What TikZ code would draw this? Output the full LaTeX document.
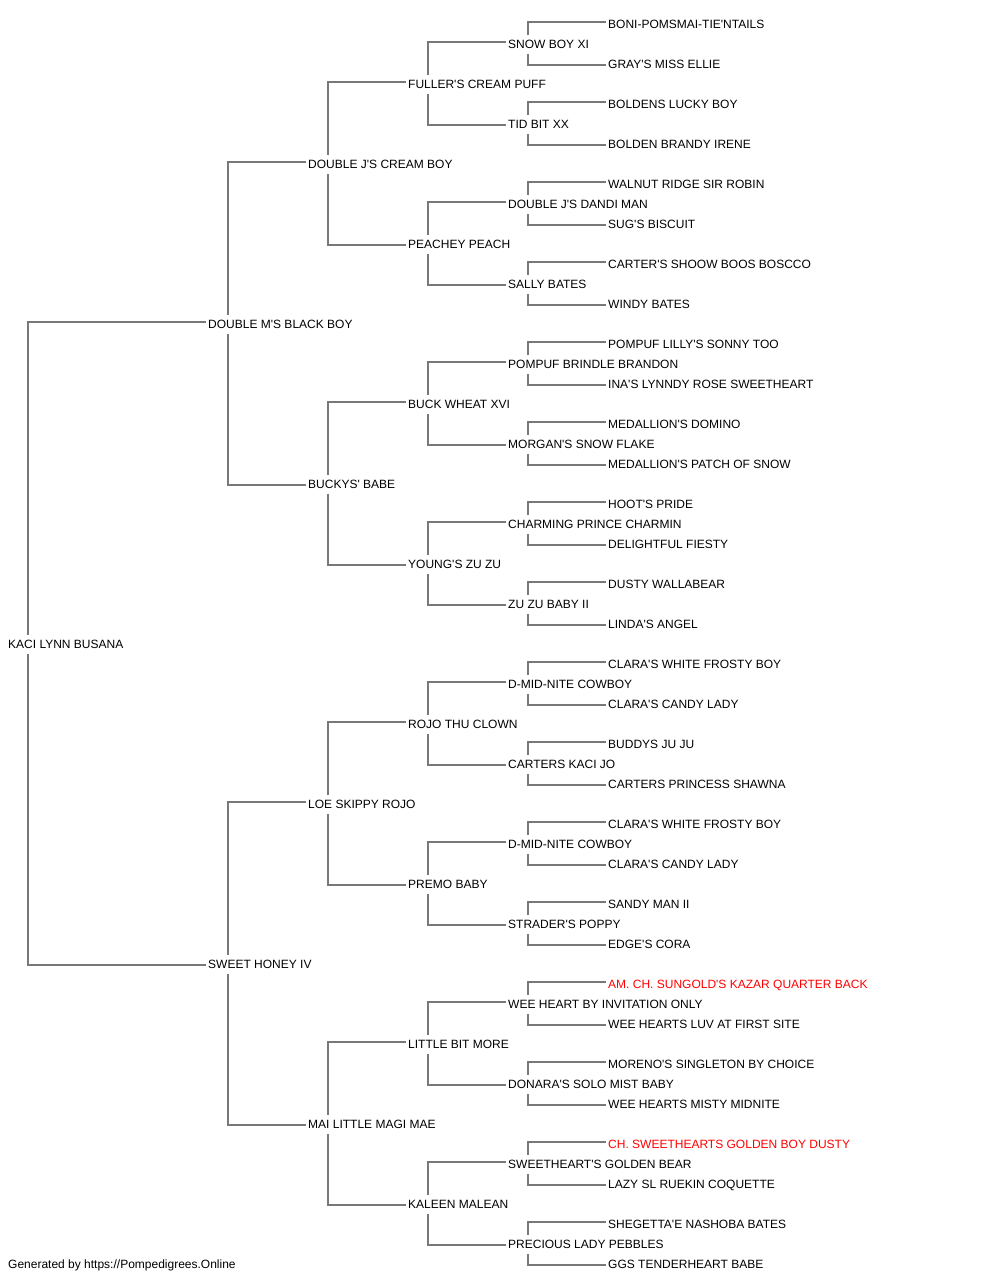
\documentclass[tikz,border=0pt]{standalone}
\usepackage{fontspec}
\setmainfont{Liberation Sans}[Ligatures=TeXOff]
\pgfdeclarelayer{bg}
\pgfsetlayers{bg,main}
\definecolor{linegray}{RGB}{120,120,120}
\definecolor{redname}{RGB}{255,0,0}
\tikzset{
  pname/.style={anchor=west,fill=white,inner xsep=2pt,inner ysep=0pt,
    text height=8.6pt,text depth=0pt,minimum height=19pt,font=\fontsize{12pt}{14pt}\selectfont,text=black},
  champ/.style={pname,text=redname},
  link/.style={draw=linegray,line width=1.1pt}
}
\newcommand{\famlink}[3]{%
  \draw[link] ([yshift=2pt]#2.west) -| ([xshift=22pt]#1.west) |- ([yshift=-1pt]#3.west);}
\begin{document}
\begin{tikzpicture}[x=1pt,y=-1pt]
\useasboundingbox (0,0) rectangle (1000,1280);
% root
\node[pname] (r) at (6,644) {KACI LYNN BUSANA};
% gen 1
\node[pname] (a1) at (206,324) {DOUBLE M'S BLACK BOY};
\node[pname] (a2) at (206,964) {SWEET HONEY IV};
% gen 2
\node[pname] (b1) at (306,164) {DOUBLE J'S CREAM BOY};
\node[pname] (b2) at (306,484) {BUCKYS' BABE};
\node[pname] (b3) at (306,804) {LOE SKIPPY ROJO};
\node[pname] (b4) at (306,1124) {MAI LITTLE MAGI MAE};
% gen 3
\node[pname] (c1) at (406,84) {FULLER'S CREAM PUFF};
\node[pname] (c2) at (406,244) {PEACHEY PEACH};
\node[pname] (c3) at (406,404) {BUCK WHEAT XVI};
\node[pname] (c4) at (406,564) {YOUNG'S ZU ZU};
\node[pname] (c5) at (406,724) {ROJO THU CLOWN};
\node[pname] (c6) at (406,884) {PREMO BABY};
\node[pname] (c7) at (406,1044) {LITTLE BIT MORE};
\node[pname] (c8) at (406,1204) {KALEEN MALEAN};
% gen 4
\node[pname] (d1) at (506,44) {SNOW BOY XI};
\node[pname] (d2) at (506,124) {TID BIT XX};
\node[pname] (d3) at (506,204) {DOUBLE J'S DANDI MAN};
\node[pname] (d4) at (506,284) {SALLY BATES};
\node[pname] (d5) at (506,364) {POMPUF BRINDLE BRANDON};
\node[pname] (d6) at (506,444) {MORGAN'S SNOW FLAKE};
\node[pname] (d7) at (506,524) {CHARMING PRINCE CHARMIN};
\node[pname] (d8) at (506,604) {ZU ZU BABY II};
\node[pname] (d9) at (506,684) {D-MID-NITE COWBOY};
\node[pname] (d10) at (506,764) {CARTERS KACI JO};
\node[pname] (d11) at (506,844) {D-MID-NITE COWBOY};
\node[pname] (d12) at (506,924) {STRADER'S POPPY};
\node[pname] (d13) at (506,1004) {WEE HEART BY INVITATION ONLY};
\node[pname] (d14) at (506,1084) {DONARA'S SOLO MIST BABY};
\node[pname] (d15) at (506,1164) {SWEETHEART'S GOLDEN BEAR};
\node[pname] (d16) at (506,1244) {PRECIOUS LADY PEBBLES};
% gen 5
\node[pname] (e1) at (606,24) {BONI-POMSMAI-TIE'NTAILS};
\node[pname] (e2) at (606,64) {GRAY'S MISS ELLIE};
\node[pname] (e3) at (606,104) {BOLDENS LUCKY BOY};
\node[pname] (e4) at (606,144) {BOLDEN BRANDY IRENE};
\node[pname] (e5) at (606,184) {WALNUT RIDGE SIR ROBIN};
\node[pname] (e6) at (606,224) {SUG'S BISCUIT};
\node[pname] (e7) at (606,264) {CARTER'S SHOOW BOOS BOSCCO};
\node[pname] (e8) at (606,304) {WINDY BATES};
\node[pname] (e9) at (606,344) {POMPUF LILLY'S SONNY TOO};
\node[pname] (e10) at (606,384) {INA'S LYNNDY ROSE SWEETHEART};
\node[pname] (e11) at (606,424) {MEDALLION'S DOMINO};
\node[pname] (e12) at (606,464) {MEDALLION'S PATCH OF SNOW};
\node[pname] (e13) at (606,504) {HOOT'S PRIDE};
\node[pname] (e14) at (606,544) {DELIGHTFUL FIESTY};
\node[pname] (e15) at (606,584) {DUSTY WALLABEAR};
\node[pname] (e16) at (606,624) {LINDA'S ANGEL};
\node[pname] (e17) at (606,664) {CLARA'S WHITE FROSTY BOY};
\node[pname] (e18) at (606,704) {CLARA'S CANDY LADY};
\node[pname] (e19) at (606,744) {BUDDYS JU JU};
\node[pname] (e20) at (606,784) {CARTERS PRINCESS SHAWNA};
\node[pname] (e21) at (606,824) {CLARA'S WHITE FROSTY BOY};
\node[pname] (e22) at (606,864) {CLARA'S CANDY LADY};
\node[pname] (e23) at (606,904) {SANDY MAN II};
\node[pname] (e24) at (606,944) {EDGE'S CORA};
\node[champ] (e25) at (606,984) {AM. CH. SUNGOLD'S KAZAR QUARTER BACK};
\node[pname] (e26) at (606,1024) {WEE HEARTS LUV AT FIRST SITE};
\node[pname] (e27) at (606,1064) {MORENO'S SINGLETON BY CHOICE};
\node[pname] (e28) at (606,1104) {WEE HEARTS MISTY MIDNITE};
\node[champ] (e29) at (606,1144) {CH. SWEETHEARTS GOLDEN BOY DUSTY};
\node[pname] (e30) at (606,1184) {LAZY SL RUEKIN COQUETTE};
\node[pname] (e31) at (606,1224) {SHEGETTA'E NASHOBA BATES};
\node[pname] (e32) at (606,1264) {GGS TENDERHEART BABE};
% footer
\node[pname] (foot) at (6,1264) {Generated by https://Pompedigrees.Online};
% connectors
\begin{pgfonlayer}{bg}
\famlink{r}{a1}{a2}
\famlink{a1}{b1}{b2}
\famlink{a2}{b3}{b4}
\foreach \p [evaluate=\p as \ca using int(2*\p-1), evaluate=\p as \cb using int(2*\p)] in {1,...,4}{\famlink{b\p}{c\ca}{c\cb}}
\foreach \p [evaluate=\p as \ca using int(2*\p-1), evaluate=\p as \cb using int(2*\p)] in {1,...,8}{\famlink{c\p}{d\ca}{d\cb}}
\foreach \p [evaluate=\p as \ca using int(2*\p-1), evaluate=\p as \cb using int(2*\p)] in {1,...,16}{\famlink{d\p}{e\ca}{e\cb}}
\end{pgfonlayer}
\end{tikzpicture}
\end{document}
